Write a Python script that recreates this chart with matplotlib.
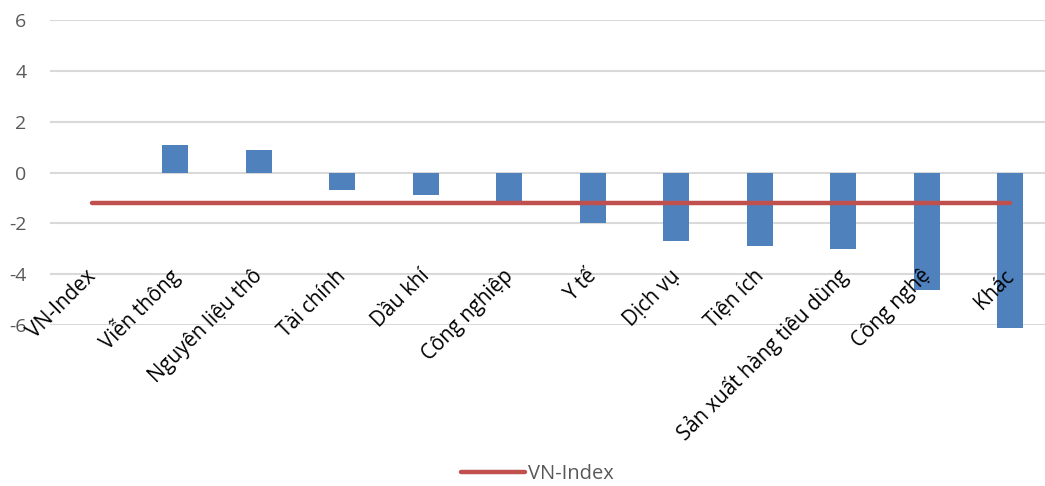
import matplotlib.pyplot as plt
import numpy as np

# sector performance vs VN-Index (%)
categories = ["VN-Index", "Viễn thông", "Nguyên liệu thô", "Tài chính", "Dầu khí",
              "Công nghiệp", "Y tế", "Dịch vụ", "Tiện ích",
              "Sản xuất hàng tiêu dùng", "Công nghệ", "Khác"]
sector_change = [np.nan, 1.1, 0.9, -0.7, -0.9, -1.1, -2.0, -2.7, -2.9, -3.0, -4.6, -6.1]
vnindex = [-1.2] * len(categories)
yticks = [-6, -4, -2, 0, 2, 4, 6]

plt.rcParams['font.family'] = ['Open Sans', 'DejaVu Sans']

fig = plt.figure(figsize=(10.45, 4.86), dpi=100)
ax = fig.add_axes([0.0478, 0.331, 0.959, 0.628])

x = np.arange(len(categories))
ax.bar(x, sector_change, width=0.31, color="#4F81BD", zorder=2, clip_on=False)
ax.plot(x, vnindex, color="#C0504D", lw=3.2, solid_capstyle="round", zorder=3, label="VN-Index")

ax.set_xlim(-0.5, len(categories) - 0.5)
ax.set_ylim(-6, 6)
ax.set_yticks(yticks)
ax.set_yticklabels([str(t) for t in yticks], fontsize=14, color="#595959")
ax.tick_params(axis="y", length=0, pad=17)
ax.tick_params(axis="x", length=0, labelbottom=False)
ax.grid(axis="y", color="#d9d9d9", lw=1.5, zorder=0)
for s in ax.spines.values():
    s.set_visible(False)

# rotated category labels, anchored at their right end
for i, name in enumerate(categories):
    ax.text(i + 0.01, -3.95, name, rotation=45, rotation_mode="anchor",
            ha="right", va="center", fontsize=14.8, color="#000000", zorder=4)

leg = fig.legend(loc="lower center", bbox_to_anchor=(0.514, -0.025), frameon=False,
                 fontsize=14.5, handlelength=3.2, handletextpad=0.15, borderpad=0.2)
for t in leg.get_texts():
    t.set_color("#595959")

fig.savefig("out.png", dpi=100)
